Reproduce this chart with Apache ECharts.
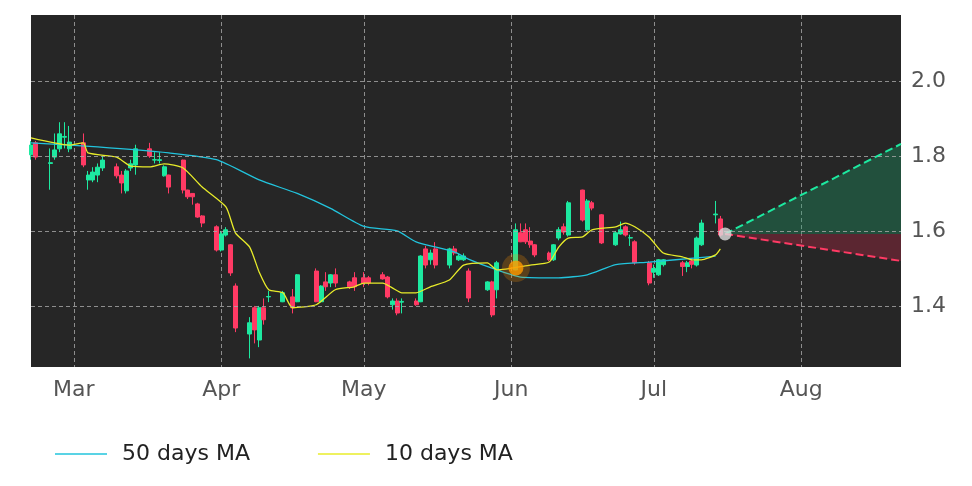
<!DOCTYPE html>
<html><head><meta charset="utf-8">
<script src="https://cdn.jsdelivr.net/npm/echarts@6/dist/echarts.min.js"></script>
<style>html,body{margin:0;padding:0;background:#fff}#c{width:972px;height:486px}</style>
</head><body><div id="c"></div>
<script>
const candleDates = ['02-20','02-21','02-24','02-25','02-26','02-27','02-28','03-03','03-04','03-05','03-06','03-07','03-10','03-11','03-12','03-13','03-14','03-17','03-18','03-19','03-20','03-21','03-24','03-25','03-26','03-27','03-28','03-31','04-01','04-02','04-03','04-04','04-07','04-08','04-09','04-10','04-11','04-14','04-16','04-17','04-21','04-22','04-23','04-24','04-25','04-28','04-29','05-01','05-02','05-05','05-06','05-07','05-08','05-09','05-12','05-13','05-14','05-15','05-16','05-19','05-20','05-21','05-22','05-23','05-27','05-28','05-29','06-02','06-03','06-04','06-05','06-06','06-09','06-10','06-11','06-12','06-13','06-16','06-17','06-18','06-20','06-23','06-24','06-25','06-26','06-27','06-30','07-01','07-02','07-03','07-07','07-08','07-09','07-10','07-11','07-14','07-15'];
// [open, close, low, high]
const ohlc = [
[1.803,1.829,1.79,1.84],[1.835,1.797,1.79,1.84],[1.78,1.782,1.71,1.82],[1.797,1.816,1.79,1.86],[1.819,1.859,1.81,1.89],[1.85,1.852,1.82,1.89],[1.819,1.837,1.81,1.88],
[1.835,1.776,1.77,1.86],[1.736,1.749,1.71,1.76],[1.736,1.757,1.73,1.77],[1.749,1.77,1.73,1.78],[1.768,1.789,1.76,1.80],
[1.771,1.747,1.74,1.78],[1.749,1.728,1.70,1.76],[1.707,1.76,1.70,1.765],[1.768,1.779,1.76,1.79],[1.776,1.819,1.75,1.83],
[1.819,1.80,1.795,1.835],[1.789,1.79,1.78,1.81],[1.788,1.79,1.78,1.81],[1.747,1.771,1.745,1.775],[1.749,1.717,1.70,1.75],
[1.789,1.709,1.70,1.79],[1.709,1.691,1.685,1.71],[1.70,1.691,1.67,1.70],[1.672,1.637,1.635,1.675],[1.64,1.621,1.61,1.642],
[1.611,1.549,1.545,1.615],[1.549,1.592,1.545,1.60],[1.589,1.603,1.585,1.61],[1.563,1.488,1.48,1.565],[1.453,1.341,1.33,1.46],
[1.325,1.355,1.26,1.37],[1.395,1.336,1.30,1.40],[1.309,1.395,1.29,1.40],[1.395,1.363,1.35,1.42],[1.424,1.425,1.41,1.44],
[1.411,1.435,1.41,1.44],[1.424,1.395,1.38,1.445],[1.411,1.483,1.41,1.485],
[1.493,1.411,1.41,1.50],[1.411,1.453,1.41,1.455],[1.464,1.451,1.44,1.49],[1.461,1.483,1.45,1.485],[1.483,1.461,1.45,1.50],
[1.464,1.451,1.445,1.467],[1.475,1.451,1.44,1.49],[1.475,1.461,1.45,1.49],[1.475,1.461,1.455,1.48],
[1.483,1.472,1.47,1.49],[1.477,1.424,1.42,1.48],[1.403,1.413,1.39,1.42],[1.413,1.381,1.375,1.42],[1.41,1.412,1.38,1.42],
[1.413,1.403,1.40,1.42],[1.411,1.533,1.41,1.535],[1.552,1.509,1.50,1.56],[1.523,1.541,1.51,1.55],[1.552,1.509,1.50,1.57],
[1.509,1.552,1.50,1.555],[1.552,1.541,1.535,1.56],[1.523,1.533,1.52,1.54],[1.523,1.533,1.52,1.54],[1.493,1.421,1.41,1.50],
[1.443,1.464,1.44,1.466],[1.464,1.376,1.37,1.467],[1.443,1.515,1.42,1.52],
[1.496,1.603,1.495,1.62],[1.595,1.571,1.57,1.62],[1.603,1.571,1.565,1.62],[1.573,1.563,1.555,1.61],[1.563,1.536,1.53,1.565],
[1.541,1.523,1.52,1.545],[1.523,1.563,1.52,1.565],[1.581,1.603,1.575,1.61],[1.611,1.597,1.59,1.62],[1.589,1.675,1.585,1.68],
[1.709,1.629,1.625,1.71],[1.603,1.68,1.60,1.685],[1.675,1.661,1.655,1.68],[1.643,1.568,1.565,1.645],
[1.563,1.595,1.56,1.60],[1.592,1.603,1.59,1.625],[1.611,1.589,1.585,1.615],[1.581,1.582,1.56,1.59],[1.571,1.515,1.51,1.575],
[1.515,1.461,1.455,1.52],[1.49,1.50,1.475,1.51],[1.483,1.523,1.48,1.525],[1.51,1.523,1.505,1.525],
[1.515,1.505,1.48,1.52],[1.505,1.515,1.49,1.52],[1.52,1.511,1.50,1.525],[1.509,1.581,1.505,1.585],[1.563,1.621,1.56,1.63],
[1.643,1.645,1.62,1.68],[1.632,1.589,1.585,1.64]];
const ma50Dates = ['02-20','03-06','03-21','03-31','04-09','04-17','04-24','05-01','05-08','05-12','05-20','05-23','05-29','06-03','06-11','06-17','06-23','06-30','07-10','07-14'];
const ma50Vals = [1.835,1.824,1.808,1.79,1.736,1.70,1.66,1.612,1.60,1.571,1.544,1.525,1.496,1.477,1.475,1.483,1.51,1.517,1.528,1.533];
const ma10Dates = ['02-20','02-28','03-03','03-04','03-10','03-13','03-17','03-20','03-24','03-28','04-02','04-04','04-07','04-09','04-11','04-14','04-16','04-21','04-25','04-29','05-01','05-05','05-07','05-09','05-12','05-15','05-19','05-22','05-27','05-29','06-05','06-09','06-11','06-13','06-16','06-18','06-23','06-25','06-27','06-30','07-03','07-07','07-09','07-11','07-14','07-15'];
const ma10Vals = [1.848,1.829,1.835,1.808,1.797,1.773,1.771,1.779,1.768,1.717,1.664,1.595,1.557,1.49,1.443,1.435,1.395,1.403,1.443,1.451,1.461,1.461,1.448,1.435,1.435,1.451,1.469,1.509,1.515,1.496,1.509,1.517,1.557,1.581,1.584,1.603,1.611,1.621,1.611,1.584,1.541,1.531,1.523,1.523,1.536,1.552];
const signalPoint = ['06-02', 1.501];
const lastPoint = ['07-16', 1.592];
const upTarget = ['08-22', 1.832];
const downTarget = ['08-22', 1.52];
const yTicks = [1.4, 1.6, 1.8, 2.0];
const monthNames = ['Jan','Feb','Mar','Apr','May','Jun','Jul','Aug','Sep','Oct','Nov','Dec'];

const Y = '2025-';
const cats = [];
for (let t = Date.UTC(2025,1,20); t <= Date.UTC(2025,7,22); t += 86400000) cats.push(new Date(t).toISOString().slice(0,10));
const cmap = {}; candleDates.forEach((d,i)=>cmap[Y+d]=ohlc[i]);
const candleData = cats.map(c => cmap[c] ? cmap[c] : '-');
const pairs = (ds, vs) => ds.map((d,i)=>[Y+d, vs[i]]);
const isMonthStart = (i) => cats[i].slice(8) === '01';

const chart = echarts.init(document.getElementById('c'));
chart.setOption({
  animation: false,
  backgroundColor: '#fff',
  grid: {left: 31, right: 71, top: 15, bottom: 119, show: true, backgroundColor: '#262626', borderWidth: 0},
  legend: {
    data: [{name:'50 days MA', icon:'rect'}, {name:'10 days MA', icon:'rect'}],
    bottom: 16, left: 50, itemWidth: 52, itemHeight: 1.5, itemGap: 68,
    textStyle: {fontSize: 22, color: '#222', fontFamily: 'DejaVu Sans', padding: [0,0,0,10]}
  },
  xAxis: {
    type: 'category', data: cats, boundaryGap: false,
    axisLine: {show: false}, axisTick: {show: false},
    axisLabel: {interval: isMonthStart, formatter: v => monthNames[+v.slice(5,7)-1], color: '#555', fontSize: 22, fontFamily: 'DejaVu Sans', margin: 12},
    splitLine: {show: true, interval: isMonthStart, lineStyle: {color: '#aaa', type: [4,3], width: 0.8}}
  },
  yAxis: {
    type: 'value', position: 'right', min: 1.237, max: 2.176, scale: true,
    axisLine: {show: false}, axisTick: {show: false}, splitLine: {show: false},
    axisLabel: {customValues: yTicks, formatter: v => v.toFixed(1), color: '#555', fontSize: 22, fontFamily: 'DejaVu Sans', margin: 10}
  },
  series: [
    {type: 'candlestick', data: candleData, barWidth: 4.5,
     itemStyle: {color: '#1de9a0', color0: '#ff3a64', borderColor: '#1de9a0', borderColor0: '#ff3a64', borderWidth: 1},
     markLine: {silent: true, symbol: 'none', label: {show: false},
       lineStyle: {color: '#aaa', type: [4,3], width: 0.8},
       data: yTicks.map(v => ({yAxis: v}))}},
    {name: '50 days MA', type: 'line', data: pairs(ma50Dates, ma50Vals), showSymbol: false, smooth: 0.2,
     lineStyle: {color: '#22c4dd', width: 1.3}, itemStyle: {color: '#22c4dd'}},
    {name: '10 days MA', type: 'line', data: pairs(ma10Dates, ma10Vals), showSymbol: false, smooth: 0.2,
     lineStyle: {color: '#e8ec2a', width: 1.3}, itemStyle: {color: '#e8ec2a'}},
    {type: 'line', data: [[Y+lastPoint[0], lastPoint[1]], [Y+upTarget[0], upTarget[1]]], showSymbol: false,
     lineStyle: {color: '#1de9a0', type: 'dashed', width: 2},
     areaStyle: {origin: lastPoint[1], color: 'rgba(29,160,105,0.5)'}},
    {type: 'line', data: [[Y+lastPoint[0], lastPoint[1]], [Y+downTarget[0], downTarget[1]]], showSymbol: false,
     lineStyle: {color: '#ff3a64', type: 'dashed', width: 2},
     areaStyle: {origin: lastPoint[1], color: 'rgba(190,40,70,0.5)'}},
    {type: 'scatter', data: [[Y+lastPoint[0], lastPoint[1]]], symbolSize: 13, itemStyle: {color: '#dddddd'}, z: 5},
    {type: 'scatter', data: [[Y+signalPoint[0], signalPoint[1]]], symbolSize: 28, itemStyle: {color: 'rgba(255,150,0,0.3)'}, z: 5},
    {type: 'scatter', data: [[Y+signalPoint[0], signalPoint[1]]], symbolSize: 15, itemStyle: {color: '#ff9a00'}, z: 6}
  ]
});
</script></body></html>
